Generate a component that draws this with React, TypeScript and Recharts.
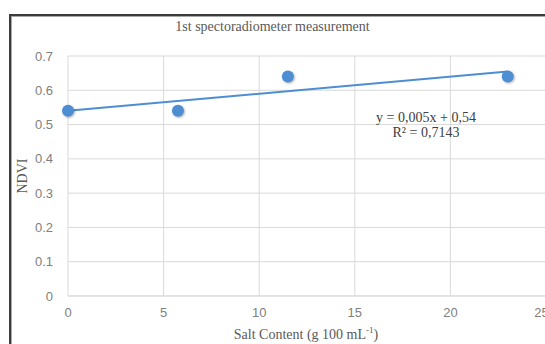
import { ScatterChart, Scatter, XAxis, YAxis, CartesianGrid } from "recharts";

const saltContent = [0, 5.75, 11.5, 23];
const ndvi = [0.54, 0.54, 0.64, 0.64];
const xTicks = [0, 5, 10, 15, 20, 25];
const yTicks = [0, 0.1, 0.2, 0.3, 0.4, 0.5, 0.6, 0.7];

// linear trendline as printed on the chart
const slope = 0.005;
const intercept = 0.54;
const trendRange = [0, 23];

const points = saltContent.map((x, i) => ({ x, y: ndvi[i] }));
const trend = trendRange.map((x) => ({ x, y: intercept + slope * x }));

const blue = "#4d8ed3";
const serif = "'Liberation Serif', 'Times New Roman', serif";
const tickStyle = { fontSize: 13, fill: "#808080", fontFamily: "'Liberation Sans', Arial, sans-serif" };

const Dot = (props: any) => (
  <circle
    cx={props.cx}
    cy={props.cy}
    r={6}
    fill={blue}
    style={{ filter: "drop-shadow(1px 1px 1px rgba(0,0,0,0.3))" }}
  />
);

export default function App() {
  return (
    <div
      style={{
        position: "fixed",
        left: 0,
        top: 0,
        width: 545,
        height: 344,
        overflow: "hidden",
        background: "#fff",
      }}
    >
      <div
        style={{
          position: "absolute",
          left: 9,
          top: 14,
          width: 620,
          height: 420,
          border: "2px solid #3c3c3c",
          boxShadow: "inset 1px 1px 0 #a8a8a8",
        }}
      />
      <div style={{ position: "absolute", left: 0, top: 0 }}>
        <ScatterChart width={548} height={344} margin={{ top: 56, right: 2, bottom: 0, left: 0 }}>
          <CartesianGrid stroke="#d9d9d9" />
          <XAxis
            type="number"
            dataKey="x"
            domain={[0, 25]}
            ticks={xTicks}
            height={48}
            tick={tickStyle}
            tickLine={false}
            tickSize={0}
            tickMargin={12}
            axisLine={{ stroke: "#d9d9d9" }}
          />
          <YAxis
            type="number"
            dataKey="y"
            domain={[0, 0.7]}
            ticks={yTicks}
            width={68}
            tick={tickStyle}
            tickLine={false}
            tickSize={0}
            tickMargin={15}
            axisLine={false}
          />
          <Scatter
            data={trend}
            line={{ stroke: blue, strokeWidth: 2 }}
            shape={() => <g />}
            isAnimationActive={false}
          />
          <Scatter data={points} shape={Dot} isAnimationActive={false} />
        </ScatterChart>
      </div>
      <div
        style={{
          position: "absolute",
          left: 0,
          width: 545,
          top: 19,
          textAlign: "center",
          fontFamily: serif,
          fontSize: 14,
          lineHeight: "16px",
          color: "#595959",
        }}
      >
        1st spectoradiometer measurement
      </div>
      <div
        style={{
          position: "absolute",
          left: 23,
          top: 176,
          transform: "translate(-50%, -50%) rotate(-90deg)",
          fontFamily: serif,
          fontSize: 14,
          lineHeight: "16px",
          color: "#595959",
          whiteSpace: "nowrap",
        }}
      >
        NDVI
      </div>
      <div
        style={{
          position: "absolute",
          left: 306,
          top: 327,
          transform: "translateX(-50%)",
          fontFamily: serif,
          fontSize: 14,
          lineHeight: "16px",
          color: "#595959",
          whiteSpace: "nowrap",
        }}
      >
        Salt Content (g 100 mL<sup style={{ fontSize: 9, lineHeight: 0 }}>-1</sup>)
      </div>
      <div
        style={{
          position: "absolute",
          left: 426,
          top: 110,
          transform: "translateX(-50%)",
          textAlign: "center",
          fontFamily: serif,
          fontSize: 14,
          lineHeight: "15px",
          color: "#404040",
          whiteSpace: "nowrap",
        }}
      >
        y = 0,005x + 0,54
        <br />
        R² = 0,7143
      </div>
    </div>
  );
}
